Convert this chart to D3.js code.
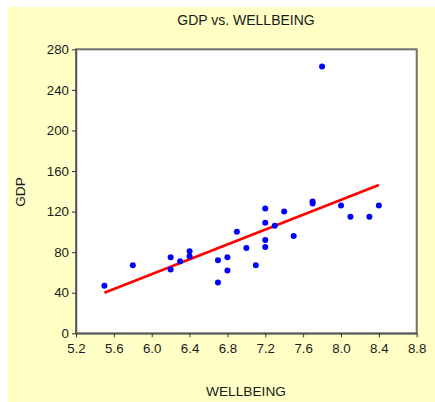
<!DOCTYPE html>
<html><head><meta charset="utf-8">
<script src="https://cdn.jsdelivr.net/npm/d3@7"></script>
<style>body{margin:0;background:#fff}svg{display:block}text{font-family:"Liberation Sans",Arial,sans-serif;fill:#1a1a1a}</style>
</head><body>
<svg id="c" width="435" height="402"></svg>
<script>
const wellbeing = [5.5,5.8,6.2,6.2,6.3,6.4,6.4,6.7,6.7,6.8,6.8,6.9,7.0,7.1,7.2,7.2,7.2,7.2,7.3,7.4,7.5,7.7,7.7,7.8,8.0,8.1,8.3,8.4];
const gdp       = [47,67,75,63,71,81,76,72,50,75,62,100,84,67,123,109,92,85,106,120,96,130,128,263,126,115,115,126];
const xTicks = [5.2,5.6,6.0,6.4,6.8,7.2,7.6,8.0,8.4,8.8];
const yTicks = [0,40,80,120,160,200,240,280];
const title = "GDP vs. WELLBEING", xTitle = "WELLBEING", yTitle = "GDP";

const svg = d3.select("#c");
svg.append("rect").attr("x",8).attr("y",7).attr("width",427).attr("height",395).attr("fill","#ffffc6");

const L=76,R=416.7,T=49.3,B=333.3;
const x = d3.scaleLinear().domain([5.2,8.8]).range([L,R]);
const y = d3.scaleLinear().domain([0,280]).range([B,T]);

svg.append("rect").attr("x",L).attr("y",T).attr("width",R-L).attr("height",B-T)
  .attr("fill","#fff").attr("stroke","#707070").attr("stroke-width",2);

const xa = svg.append("g").attr("transform",`translate(0,${B})`)
  .call(d3.axisBottom(x).tickValues(xTicks).tickFormat(d3.format(".1f")).tickSize(4).tickSizeOuter(0).tickPadding(6));
const ya = svg.append("g").attr("transform",`translate(${L},0)`)
  .call(d3.axisLeft(y).tickValues(yTicks).tickFormat(d3.format("d")).tickSize(4).tickSizeOuter(0).tickPadding(3));
[xa,ya].forEach(a=>{a.select(".domain").attr("stroke","#555").attr("stroke-width",1.5);
  a.selectAll(".tick line").attr("stroke","#333");
  a.selectAll("text").attr("font-size",13.3).attr("font-family","Liberation Sans, Arial, sans-serif").attr("fill","#1a1a1a");});

// OLS fit
const n=wellbeing.length, mx=d3.mean(wellbeing), my=d3.mean(gdp);
let sxy=0,sxx=0; for(let i=0;i<n;i++){sxy+=(wellbeing[i]-mx)*(gdp[i]-my);sxx+=(wellbeing[i]-mx)**2;}
const b=sxy/sxx, a0=my-b*mx;
const ext=d3.extent(wellbeing);
svg.append("line").attr("x1",x(ext[0])).attr("y1",y(a0+b*ext[0])).attr("x2",x(ext[1])).attr("y2",y(a0+b*ext[1]))
  .attr("stroke","#ff0000").attr("stroke-width",2.6);

svg.append("g").selectAll("circle").data(wellbeing.map((w,i)=>[w,gdp[i]])).join("circle")
  .attr("cx",d=>x(d[0])).attr("cy",d=>y(d[1])).attr("r",3).attr("fill","#0000ff");

svg.append("text").attr("x",246).attr("y",25).attr("text-anchor","middle").attr("font-size",14).text(title);
svg.append("text").attr("x",246).attr("y",396).attr("text-anchor","middle").attr("font-size",13.7).text(xTitle);
svg.append("text").attr("transform","translate(25,192) rotate(-90)").attr("text-anchor","middle").attr("font-size",13.7).text(yTitle);
</script>
</body></html>
